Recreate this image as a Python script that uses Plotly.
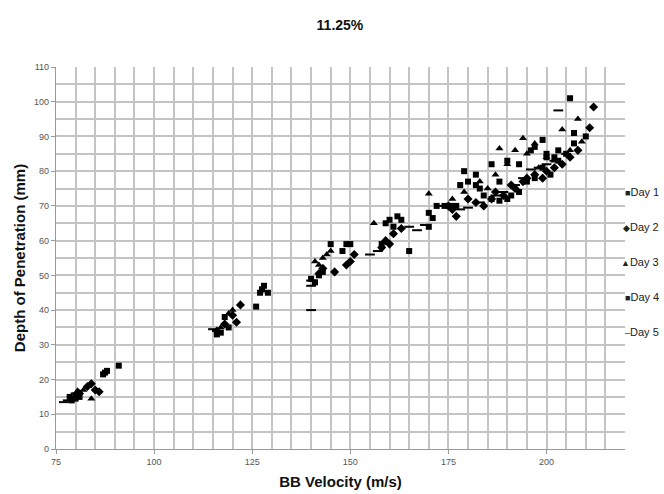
import plotly.graph_objects as go

# ---- data ----
day1_x = [79, 80, 81, 87, 88, 91, 117, 119, 126, 127, 128, 141, 145, 148, 150, 159, 160, 162, 165, 170, 170,
          176, 178, 179, 182, 183, 186, 188, 190, 193, 196, 197, 199, 200, 202, 203, 206, 207, 210]
day1_y = [14, 15.5, 15, 21.5, 22.5, 24, 33.5, 35, 41, 45, 47, 48, 59, 57, 59, 65, 66, 67, 57, 64, 68,
          70, 76, 80, 79, 75, 82, 77, 83, 82, 86, 87, 89, 85, 84, 86, 101, 91, 90]

day2_x = [81, 83, 84, 85, 86, 116, 118, 120, 121, 122, 142, 143, 146, 149, 150, 151, 158, 159, 160, 161, 163,
          175, 176, 177, 180, 182, 184, 186, 187, 189, 191, 192, 194, 195, 197, 199, 200, 202, 204, 206, 208, 211, 212]
day2_y = [16, 18, 18.8, 17, 16.5, 34, 36, 38.5, 36.5, 41.5, 50.5, 52, 51, 53, 54, 56, 58, 60, 59, 62, 63.5,
          70, 69, 67, 72, 71, 70, 72, 74, 73, 76, 75, 77, 78, 79, 78, 80, 81, 82, 84, 86, 92.5, 98.5]

day3_x = [80.5, 82, 84, 117, 119, 120, 141, 142, 143, 144, 145, 156, 170, 176, 179, 183, 185, 187, 188, 190,
          192, 194, 195, 197, 198, 200, 202, 204, 206, 208, 209]
day3_y = [16.8, 17, 14.5, 35, 39, 40, 54, 53, 55, 56, 57, 65, 73.5, 72, 74, 77, 75, 79, 86.5, 82,
          86, 89.5, 85, 88, 81, 84, 83, 92, 86, 95, 88.5]

day4_x = [78.5, 80, 87.5, 116, 118, 127.5, 129, 140, 142, 143, 149, 158, 161, 163, 171, 172, 174, 177, 180,
          182, 184, 186, 188, 190, 191, 193, 195, 197, 199, 200, 201, 203, 205, 207]
day4_y = [15, 14.5, 22, 33, 38, 46, 45, 49, 50, 51, 59, 59, 64, 66, 66.5, 70, 70, 70, 77,
          76, 73, 72, 71.5, 72, 73, 74, 77, 78, 81, 84, 79, 83, 85, 88]

day5_x = [77, 78, 79, 80, 115, 116, 140, 140, 140, 155, 157, 165, 167, 169, 173, 178, 180, 183, 187, 189,
          192, 194, 196, 198, 200, 202, 203, 205]
day5_y = [13.5, 14, 15, 16, 34.5, 34, 40, 47, 48.5, 56, 57, 64, 63, 64.5, 70, 69, 69.5, 71, 73, 74,
          76, 78, 80.5, 81, 82, 83, 97.5, 85]

series_names = ["Day 1", "Day 2", "Day 3", "Day 4", "Day 5"]
legend_glyphs = ["\u25A0", "\u25C6", "\u25B2", "\u25A0", "\u2013"]

title_text = "11.25%"
x_title = "BB Velocity (m/s)"
y_title = "Depth of Penetration (mm)"

fig = go.Figure()
sym = [("square", 6), ("diamond", 7), ("triangle-up", 7), ("square", 6), ("line-ew", 7)]
data = [(day1_x, day1_y), (day2_x, day2_y), (day3_x, day3_y), (day4_x, day4_y), (day5_x, day5_y)]
for (xs, ys), name, (s, sz) in zip(data, series_names, sym):
    mk = dict(symbol=s, size=sz, color="black")
    if s == "line-ew":
        mk["line"] = dict(width=2, color="black")
    fig.add_trace(go.Scatter(x=xs, y=ys, mode="markers", name=name, marker=mk, showlegend=False))

for i, (g, name) in enumerate(zip(legend_glyphs, series_names)):
    fig.add_annotation(xref="paper", yref="paper", x=(661 - 56) / 569.0, y=(449 - 192 - 35 * i) / 382.0,
                       xanchor="right", yanchor="middle", showarrow=False,
                       text='<span style="font-size:9px">' + g + '</span>' + name,
                       font=dict(family="Liberation Sans, Arial", size=11, color="#222"))

grid = "#c4c4c4"
fig.update_layout(
    width=664, height=494,
    margin=dict(l=56, r=39, t=67, b=45, autoexpand=False),
    paper_bgcolor="white", plot_bgcolor="white",
    title=dict(text="<b>" + title_text + "</b>", x=0.512, xanchor="center", y=0.949, yanchor="middle",
               font=dict(family="Liberation Sans, Arial", size=14, color="#111")),
    font=dict(family="Liberation Sans, Arial"),
)
fig.update_xaxes(range=[75, 220], tick0=75, dtick=25, showgrid=True, gridcolor=grid, gridwidth=1.5,
                 minor=dict(dtick=5, showgrid=True, gridcolor=grid, gridwidth=1.5),
                 showline=True, linecolor="#9a9a9a", linewidth=1.3, ticks="outside", ticklen=4,
                 tickcolor="#9a9a9a", tickfont=dict(size=9, color="#555"), zeroline=False, automargin=False,
                 title=dict(text="<b>" + x_title + "</b>", font=dict(size=15, color="#111"), standoff=10))
fig.update_yaxes(range=[0, 110], tick0=0, dtick=10, showgrid=True, gridcolor=grid, gridwidth=1.5,
                 minor=dict(dtick=5, showgrid=True, gridcolor=grid, gridwidth=1.5),
                 showline=True, linecolor="#9a9a9a", linewidth=1.3, ticks="outside", ticklen=4,
                 tickcolor="#9a9a9a", tickfont=dict(size=9, color="#555"), zeroline=False, automargin=False,
                 title=dict(text="<b>" + y_title + "</b>", font=dict(size=15, color="#111"), standoff=4))

fig.write_html("out.html", config={"displayModeBar": False},
               post_script="document.body.style.margin='0';document.body.style.overflow='hidden';")
